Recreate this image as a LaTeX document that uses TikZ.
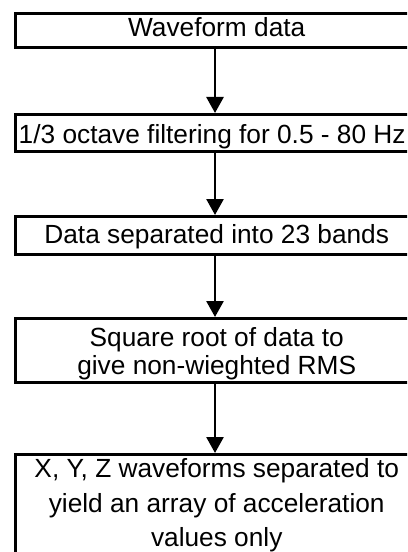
\documentclass[tikz,border=0pt]{standalone}
\usepackage{fontspec}
\setmainfont{Liberation Sans}
\usetikzlibrary{arrows.meta}

% centred lines in a fixed-width column; the extra space on the right
% lets each box run past the right edge of the picture
\newcommand\stagelines[1]{\parbox[t]{301.5pt}{\centering #1}\hspace*{40.5pt}}

\begin{document}
\begin{tikzpicture}[x=0.75pt, y=-0.75pt,
  stagebox/.style={draw, line width=2.6pt, inner sep=0pt, anchor=north west,
    font=\fontsize{19.7pt}{21pt}\selectfont},
  flow/.style={-{Triangle[width=12.75pt,length=12pt]}, line width=2pt},
  axis/.style={xshift=150.75pt}]
  \useasboundingbox (0,0) rectangle (407,552);
  \clip (0,0) rectangle (407,552);

  % processing stages, top to bottom
  \node[stagebox, text height=17.25pt, text depth=8.25pt] (wave) at (14,12)
    {\stagelines{Waveform data}};
  \node[stagebox, text height=21.75pt, text depth=6pt] (filter) at (14,113)
    {\parbox[t]{301.5pt}{\hspace*{2.25pt}1/3 octave filtering for 0.5 - 80 Hz}\hspace*{40.5pt}};
  \node[stagebox, text height=20.25pt, text depth=8.25pt] (bands) at (14,215)
    {\stagelines{Data separated into 23 bands}};
  \node[stagebox, text height=21pt, text depth=27pt] (rms) at (14,317)
    {\stagelines{Square root of data to\\give non-wieghted RMS}};
  \node[stagebox, text height=17.25pt, text depth=90pt,
    font=\fontsize{19.7pt}{25.9pt}\selectfont] (xyz) at (14,453)
    {\stagelines{X, Y, Z waveforms separated to\\yield an array of acceleration\\values only}};

  % connectors, on the centre line of the text column
  \draw[flow] ([axis]wave.south west) -- ([axis]filter.north west);
  \draw[flow] ([axis]filter.south west) -- ([axis]bands.north west);
  \draw[flow] ([axis]bands.south west) -- ([axis]rms.north west);
  \draw[flow] ([axis]rms.south west) -- ([axis]xyz.north west);
\end{tikzpicture}
\end{document}
